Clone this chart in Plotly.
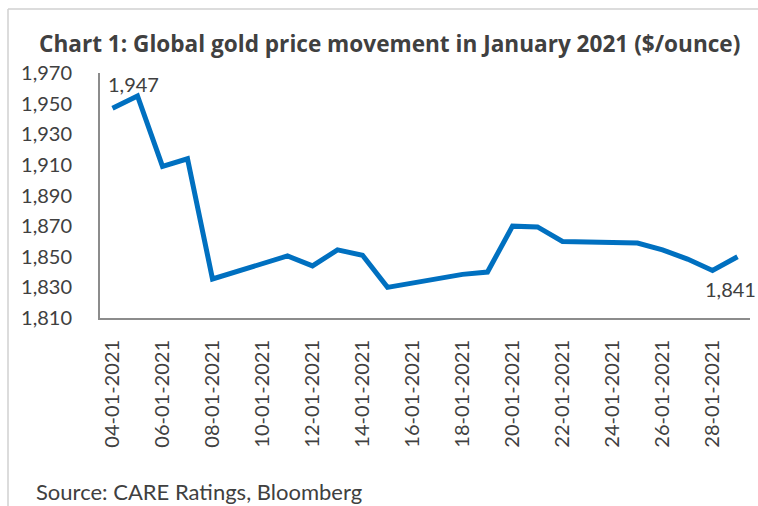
import plotly.graph_objects as go

dates = ["2021-01-04", "2021-01-05", "2021-01-06", "2021-01-07", "2021-01-08",
         "2021-01-11", "2021-01-12", "2021-01-13", "2021-01-14", "2021-01-15",
         "2021-01-18", "2021-01-19", "2021-01-20", "2021-01-21", "2021-01-22",
         "2021-01-25", "2021-01-26", "2021-01-27", "2021-01-28", "2021-01-29"]
prices = [1947, 1955, 1909, 1914, 1835.5,
          1850.5, 1844, 1854.5, 1851, 1830,
          1838.5, 1840, 1870, 1869.5, 1860,
          1859, 1854.5, 1848.5, 1841, 1850]

tick_dates = ["2021-01-04", "2021-01-06", "2021-01-08", "2021-01-10", "2021-01-12",
              "2021-01-14", "2021-01-16", "2021-01-18", "2021-01-20", "2021-01-22",
              "2021-01-24", "2021-01-26", "2021-01-28"]
tick_labels = ["04-01-2021", "06-01-2021", "08-01-2021", "10-01-2021", "12-01-2021",
               "14-01-2021", "16-01-2021", "18-01-2021", "20-01-2021", "22-01-2021",
               "24-01-2021", "26-01-2021", "28-01-2021"]

title_text = "Chart 1: Global gold price movement in January 2021 ($/ounce)"
source_text = "Source: CARE Ratings, Bloomberg"

FONT = "Lato"
TXT = "#404040"
AX = "#8c8c8c"

fig = go.Figure()
fig.add_trace(go.Scatter(x=dates, y=prices, mode="lines",
                         line=dict(color="#0070C0", width=5), hoverinfo="skip"))

W, H = 758, 506
L, R, T, B = 100, 8, 73, 188
pw, ph = W - L - R, H - T - B

def px(x):
    return (x - L) / pw

def py(y):
    return (H - B - y) / ph

fig.update_layout(
    width=W, height=H,
    margin=dict(l=L, r=R, t=T, b=B),
    paper_bgcolor="white", plot_bgcolor="white",
    showlegend=False,
    font=dict(family=FONT, color=TXT, size=20),
    xaxis=dict(type="date", range=["2021-01-03 12:00", "2021-01-29 12:00"],
               tickvals=tick_dates, ticktext=tick_labels, tickangle=-90,
               ticks="outside", ticklen=12, tickcolor="rgba(0,0,0,0)",
               showline=True, linecolor=AX, linewidth=2, showgrid=False,
               zeroline=False, tickfont=dict(size=20, family=FONT, color=TXT)),
    yaxis=dict(range=[1810, 1970], dtick=20, tick0=1810, tickformat=",",
               ticks="outside", ticklen=22, tickcolor="rgba(0,0,0,0)",
               showline=True, linecolor=AX, linewidth=2, showgrid=False,
               zeroline=False, tickfont=dict(size=20, family=FONT, color=TXT)),
)

# chart-area border (top and left)
fig.add_shape(type="line", xref="paper", yref="paper",
              x0=px(8), x1=px(770), y0=py(9), y1=py(9),
              line=dict(color="#d0d0d0", width=1.5))
fig.add_shape(type="line", xref="paper", yref="paper",
              x0=px(8), x1=px(8), y0=py(9), y1=py(520),
              line=dict(color="#d0d0d0", width=1.5))

fig.add_annotation(x=dates[0], y=prices[0], text=f"{prices[0]:,.0f}", showarrow=False,
                   xshift=21, yshift=24, font=dict(size=20, family=FONT, color=TXT))
fig.add_annotation(x=dates[-2], y=prices[-2], text=f"{prices[-2]:,.0f}", showarrow=False,
                   xshift=18, yshift=-18, font=dict(size=20, family=FONT, color=TXT))

fig.add_annotation(xref="paper", yref="paper", x=px(37), y=py(44), xanchor="left",
                   yanchor="middle", text=f"<b>{title_text}</b>", showarrow=False,
                   font=dict(size=22.6, family="Open Sans", color=TXT))
fig.add_annotation(xref="paper", yref="paper", x=px(34), y=py(491), xanchor="left",
                   yanchor="middle", text=source_text, showarrow=False,
                   font=dict(size=22, family=FONT, color=TXT))

fig.write_html("out.html")
